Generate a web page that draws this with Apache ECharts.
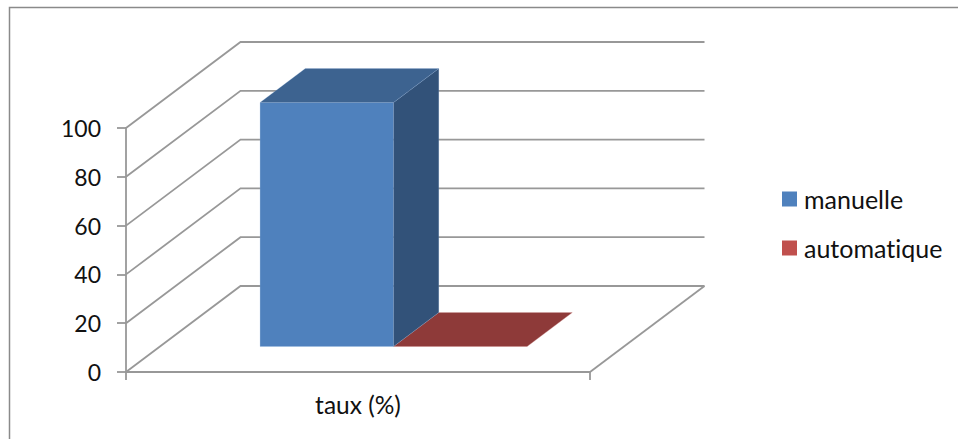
<!DOCTYPE html>
<html>
<head>
<meta charset="utf-8">
<style>html,body{margin:0;padding:0;background:#fff}#chart{width:958px;height:439px}#chart text{font-variant-ligatures:none}</style>
<script src="https://cdn.jsdelivr.net/npm/echarts@6/dist/echarts.min.js"></script>
</head>
<body>
<div id="chart"></div>
<script>
// Chart content
const categories = ['taux (%)'];
const manuelle = [100];
const automatique = [0];
const yTicks = [0, 20, 40, 60, 80, 100];

// Oblique projection used for the pseudo-3D look
const FLOOR_DX = 114.5, FLOOR_DY = -86;
const BAR_START = 0.297;   // depth at which the bars' front faces sit
const BAR_DEPTH = 0.395;   // depth of each bar
const BAR_X0 = 0.2157;     // left gap as a share of the category width
const BAR_W = 0.2877;      // bar width as a share of the category width
const LINE = '#989898';
const LINE_W = 1.8;
const FONT = 'Lato';

// Back and side walls with their horizontal gridlines
function renderWalls(params, api) {
  const cs = params.coordSys;
  const v = api.value(0);
  const y = api.coord([0, v])[1];
  const x0 = cs.x, x1 = cs.x + cs.width;
  const children = [{
    type: 'polyline',
    shape: { points: [[x0, y], [x0 + FLOOR_DX, y + FLOOR_DY], [x1 + FLOOR_DX, y + FLOOR_DY]] },
    style: { stroke: LINE, fill: null, lineWidth: LINE_W }
  }];
  if (v === 0) {
    children.push({
      type: 'line',
      shape: { x1: x1, y1: y, x2: x1 + FLOOR_DX, y2: y + FLOOR_DY },
      style: { stroke: LINE, lineWidth: LINE_W }
    });
  }
  return { type: 'group', children: children };
}

// Extruded bar: front, top and side faces, all derived from the value axis
function barRenderer(slot, colors) {
  return function (params, api) {
    const cs = params.coordSys;
    const base = api.coord([0, 0])[1];
    const top = api.coord([0, api.value(0)])[1];
    const sx = BAR_START * FLOOR_DX, sy = BAR_START * FLOOR_DY;
    const dx = BAR_DEPTH * FLOOR_DX, dy = BAR_DEPTH * FLOOR_DY;
    const l = cs.x + cs.width * (BAR_X0 + BAR_W * slot) + sx;
    const r = l + cs.width * BAR_W;
    const yb = base + sy, yt = top + sy;
    const poly = function (points, fill) {
      return { type: 'polygon', shape: { points: points }, style: { fill: fill, stroke: colors.edge, lineWidth: 0.5 } };
    };
    return {
      type: 'group',
      children: [
        poly([[l, yb], [r, yb], [r, yt], [l, yt]], colors.front),
        poly([[r, yb], [r + dx, yb + dy], [r + dx, yt + dy], [r, yt]], colors.side),
        poly([[l, yt], [r, yt], [r + dx, yt + dy], [l + dx, yt + dy]], colors.top)
      ]
    };
  };
}

const chart = echarts.init(document.getElementById('chart'), null, { renderer: 'svg' });
chart.setOption({
  animation: false,
  backgroundColor: '#ffffff',
  textStyle: { fontFamily: FONT },
  graphic: [{
    type: 'polyline',
    silent: true,
    shape: { points: [[9.5, 439], [9.5, 7.5], [958, 7.5]] },
    style: { stroke: '#8a8a8a', fill: null, lineWidth: 1.5 }
  }],
  legend: {
    left: 777, top: 179,
    orient: 'vertical',
    icon: 'rect',
    itemWidth: 15, itemHeight: 15, itemGap: 19,
    textStyle: { fontFamily: FONT, fontSize: 25, color: '#111', padding: [0, 0, 0, 2], lineHeight: 30 },
    data: ['manuelle', 'automatique']
  },
  grid: { left: 126, right: 368, top: 128, bottom: 67 },
  xAxis: {
    type: 'category',
    data: categories,
    axisLine: { lineStyle: { color: LINE, width: LINE_W } },
    axisTick: { show: true, alignWithLabel: false, length: 8, lineStyle: { color: LINE, width: LINE_W } },
    axisLabel: { fontFamily: FONT, fontSize: 24.5, color: '#111', margin: 20 }
  },
  yAxis: {
    type: 'value',
    min: 0, max: 100, interval: 20,
    axisLine: { show: true, lineStyle: { color: LINE, width: LINE_W } },
    axisTick: { show: true, length: 9, lineStyle: { color: LINE, width: LINE_W } },
    axisLabel: { fontFamily: FONT, fontSize: 23, color: '#111', margin: 25 },
    splitLine: { show: false }
  },
  series: [
    {
      type: 'custom', name: 'walls', silent: true, z: 1,
      renderItem: renderWalls,
      data: yTicks.map(function (v) { return [v]; }),
      encode: { y: 0 }
    },
    {
      type: 'custom', name: 'manuelle', z: 3,
      itemStyle: { color: '#4F81BD' },
      renderItem: barRenderer(0, { front: '#4F81BD', side: '#325279', top: '#3D6390', edge: 'rgba(140,175,220,0.4)' }),
      data: manuelle.map(function (v) { return [v]; }),
      encode: { y: 0 }
    },
    {
      type: 'custom', name: 'automatique', z: 2,
      itemStyle: { color: '#C0504D' },
      renderItem: barRenderer(1, { front: '#C0504D', side: '#7F3533', top: '#8E3A39', edge: 'rgba(225,170,170,0.4)' }),
      data: automatique.map(function (v) { return [v]; }),
      encode: { y: 0 }
    }
  ]
});
</script>
</body>
</html>
